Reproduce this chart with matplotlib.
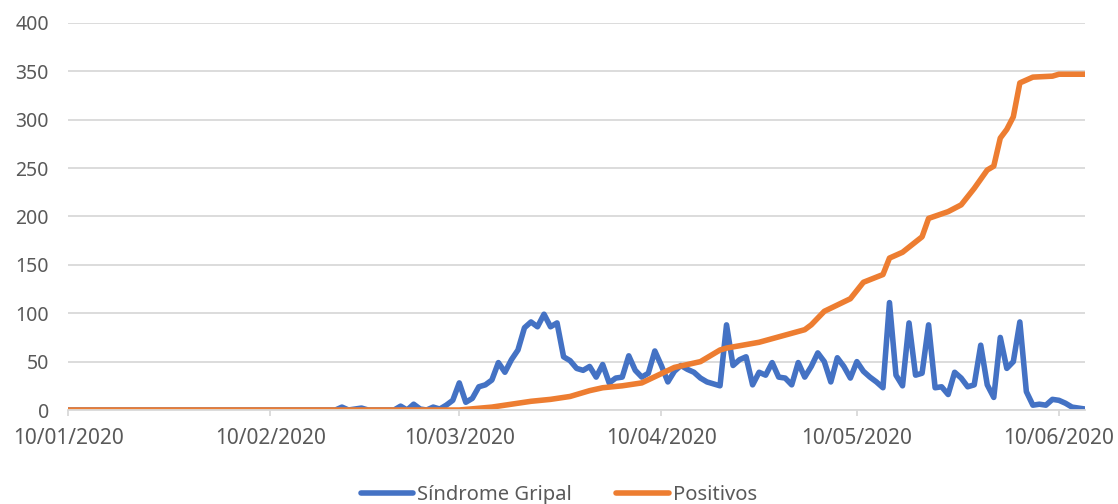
import numpy as np
import pandas as pd
import matplotlib
matplotlib.use('Agg')
import matplotlib.pyplot as plt
import matplotlib.dates as mdates

plt.rcParams['font.family'] = ['Noto Sans', 'DejaVu Sans']

# Síndrome Gripal (daily cases)
sg_dates = ['2020-01-10', '2020-02-20', '2020-02-21', '2020-02-22', '2020-02-24', '2020-02-25',
            '2020-02-29', '2020-03-01', '2020-03-02', '2020-03-03', '2020-03-04', '2020-03-05',
            '2020-03-06', '2020-03-07', '2020-03-08', '2020-03-09', '2020-03-10', '2020-03-11',
            '2020-03-12', '2020-03-13', '2020-03-14', '2020-03-15', '2020-03-16', '2020-03-17',
            '2020-03-18', '2020-03-19', '2020-03-20', '2020-03-21', '2020-03-22', '2020-03-23',
            '2020-03-24', '2020-03-25', '2020-03-26', '2020-03-27', '2020-03-28', '2020-03-29',
            '2020-03-30', '2020-03-31', '2020-04-01', '2020-04-02', '2020-04-03', '2020-04-04',
            '2020-04-05', '2020-04-06', '2020-04-07', '2020-04-08', '2020-04-09', '2020-04-10',
            '2020-04-11', '2020-04-12', '2020-04-13', '2020-04-14', '2020-04-15', '2020-04-16',
            '2020-04-17', '2020-04-18', '2020-04-19', '2020-04-20', '2020-04-21', '2020-04-22',
            '2020-04-23', '2020-04-24', '2020-04-25', '2020-04-26', '2020-04-27', '2020-04-28',
            '2020-04-29', '2020-04-30', '2020-05-01', '2020-05-02', '2020-05-03', '2020-05-04',
            '2020-05-05', '2020-05-06', '2020-05-07', '2020-05-08', '2020-05-09', '2020-05-10',
            '2020-05-11', '2020-05-12', '2020-05-13', '2020-05-14', '2020-05-15', '2020-05-16',
            '2020-05-17', '2020-05-18', '2020-05-19', '2020-05-20', '2020-05-21', '2020-05-22',
            '2020-05-23', '2020-05-24', '2020-05-25', '2020-05-26', '2020-05-27', '2020-05-28',
            '2020-05-29', '2020-05-30', '2020-05-31', '2020-06-01', '2020-06-02', '2020-06-03',
            '2020-06-04', '2020-06-05', '2020-06-06', '2020-06-07', '2020-06-08', '2020-06-09',
            '2020-06-10', '2020-06-11', '2020-06-12', '2020-06-13', '2020-06-14']
sg_values = [0, 0, 3, 0, 2, 0,
             0, 4, 0, 6, 1, 0,
             3, 1, 5, 10, 28, 8,
             12, 24, 26, 31, 49, 39,
             52, 62, 85, 91, 86, 99,
             86, 90, 55, 51, 43, 41,
             45, 34, 47, 28, 33, 34,
             56, 41, 34, 38, 61, 46,
             29, 40, 46, 42, 39, 33,
             29, 27, 25, 88, 46, 52,
             55, 26, 39, 36, 49, 34,
             33, 26, 49, 34, 45, 59,
             50, 29, 54, 45, 33, 50,
             40, 34, 29, 23, 111, 36,
             25, 90, 36, 38, 88, 23,
             24, 16, 39, 33, 24, 26,
             67, 26, 13, 75, 43, 50,
             91, 19, 5, 6, 5, 11,
             10, 7, 3, 2, 1]

# Positivos (cumulative)
pos_dates = ['2020-01-10', '2020-03-10', '2020-03-15', '2020-03-18', '2020-03-21', '2020-03-24',
             '2020-03-27', '2020-03-30', '2020-04-01', '2020-04-04', '2020-04-07', '2020-04-12',
             '2020-04-16', '2020-04-19', '2020-04-20', '2020-04-25', '2020-05-02', '2020-05-03',
             '2020-05-05', '2020-05-09', '2020-05-11', '2020-05-14', '2020-05-15', '2020-05-17',
             '2020-05-20', '2020-05-21', '2020-05-24', '2020-05-26', '2020-05-28', '2020-05-30',
             '2020-05-31', '2020-06-01', '2020-06-02', '2020-06-03', '2020-06-04', '2020-06-06',
             '2020-06-09', '2020-06-10', '2020-06-14']
pos_values = [0, 0, 3, 6, 9, 11,
              14, 20, 23, 25, 28, 44,
              50, 62, 64, 70, 83, 88,
              102, 115, 132, 140, 157, 163,
              179, 198, 205, 212, 229, 248,
              252, 281, 290, 303, 338, 344,
              345, 347, 347]

tick_dates = ['2020-01-10', '2020-02-10', '2020-03-10', '2020-04-10', '2020-05-10', '2020-06-10']
y_ticks = [0, 50, 100, 150, 200, 250, 300, 350, 400]

text_color = '#595959'
grid_color = '#d9d9d9'

fig = plt.figure(figsize=(11.18, 5.04), dpi=100)
ax = fig.add_axes([0.061, 0.1865, 0.9095, 0.768])

ax.plot(pd.to_datetime(sg_dates), sg_values, color='#4472C4', lw=4.0,
        solid_joinstyle='round', solid_capstyle='round', label='Síndrome Gripal')
ax.plot(pd.to_datetime(pos_dates), pos_values, color='#ED7D31', lw=4.0,
        solid_joinstyle='round', solid_capstyle='round', label='Positivos')

ax.set_xlim(pd.Timestamp('2020-01-10'), pd.Timestamp('2020-06-14'))
ax.set_ylim(0, 400)
ax.set_yticks(y_ticks)
ax.set_xticks(pd.to_datetime(tick_dates))
ax.xaxis.set_major_formatter(mdates.DateFormatter('%d/%m/%Y'))

ax.grid(axis='y', color=grid_color, lw=1.3)
ax.set_axisbelow(True)
for s in ['top', 'right', 'left']:
    ax.spines[s].set_visible(False)
ax.spines['bottom'].set_color(grid_color)
ax.spines['bottom'].set_linewidth(1.3)

ax.tick_params(axis='y', length=0, pad=14, labelsize=14, labelcolor=text_color)
ax.tick_params(axis='x', length=4, width=1.3, color=grid_color, pad=9,
               labelsize=15, labelcolor=text_color)

fig.legend(loc='center', bbox_to_anchor=(0.5, 0.018), ncol=2, frameon=False,
           fontsize=14.5, labelcolor=text_color, handlelength=2.6, columnspacing=2.2,
           handletextpad=0.2)

fig.savefig('out.png', dpi=100)
